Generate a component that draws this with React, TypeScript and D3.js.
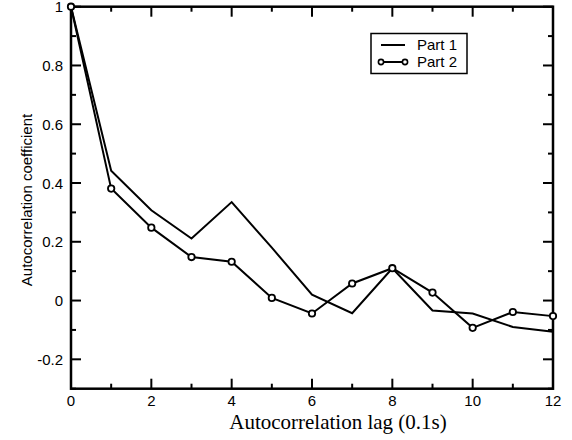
import React from "react";
import * as d3 from "d3";

const lags = [0, 1, 2, 3, 4, 5, 6, 7, 8, 9, 10, 11, 12];
const part1 = [1, 0.442, 0.307, 0.211, 0.335, 0.18, 0.02, -0.043, 0.11, -0.034, -0.044, -0.09, -0.106];
const part2 = [1, 0.381, 0.248, 0.148, 0.132, 0.009, -0.044, 0.058, 0.11, 0.027, -0.093, -0.039, -0.053];
const xTicks = [0, 2, 4, 6, 8, 10, 12];
const yTicks = [-0.2, 0, 0.2, 0.4, 0.6, 0.8, 1];
const seriesNames = ["Part 1", "Part 2"];

const W = 572, H = 440;
const L = 71, R = 553, T = 6.7, B = 388.7;

export default function App() {
  const x = d3.scaleLinear().domain([0, 12]).range([L, R]);
  const y = d3.scaleLinear().domain([-0.3, 1]).range([B, T]);
  const line = d3.line<number>().x((_, i) => x(lags[i])).y((d) => y(d));
  const xMinor = d3.range(0, 13, 1);
  const yMinor = d3.range(-3, 11, 1).map((v) => v / 10);
  const fmt = (v: number) => (v === 0 ? "0" : v === 1 ? "1" : d3.format(".1f")(v).replace("−", "-"));
  return (
    <svg width={W} height={H} style={{ position: "absolute", left: 0, top: 0, background: "#fff" }}>
      <rect x={0} y={0} width={W} height={H} fill="#fff" />
      {xMinor.map((v) => (
        <g key={"xm" + v}>
          <line x1={x(v)} x2={x(v)} y1={B} y2={B - (v % 2 === 0 ? 10 : 5)} stroke="#000" strokeWidth={2} />
          <line x1={x(v)} x2={x(v)} y1={T} y2={T + (v % 2 === 0 ? 10 : 5)} stroke="#000" strokeWidth={2} />
        </g>
      ))}
      {yMinor.map((v, i) => {
        const major = Math.round(v * 10) % 2 === 0;
        return (
          <g key={"ym" + i}>
            <line x1={L} x2={L + (major ? 10 : 5)} y1={y(v)} y2={y(v)} stroke="#000" strokeWidth={2} />
            <line x1={R} x2={R - (major ? 10 : 5)} y1={y(v)} y2={y(v)} stroke="#000" strokeWidth={2} />
          </g>
        );
      })}
      <rect x={L} y={T} width={R - L} height={B - T} fill="none" stroke="#000" strokeWidth={2.5} />
      {xTicks.map((v) => (
        <text key={"xt" + v} x={x(v)} y={405.5} textAnchor="middle" fontFamily="Liberation Sans, Arial, sans-serif" fontSize={15} fill="#000">
          {v}
        </text>
      ))}
      {yTicks.map((v) => (
        <text key={"yt" + v} x={L - 8} y={y(v) + 5.5} textAnchor="end" fontFamily="Liberation Sans, Arial, sans-serif" fontSize={15} fill="#000">
          {fmt(v)}
        </text>
      ))}
      <text x={338} y={429} textAnchor="middle" fontFamily="Liberation Serif, Times New Roman, serif" fontSize={21} fill="#000">
        Autocorrelation lag (0.1s)
      </text>
      <text transform={`translate(32,200) rotate(-90)`} textAnchor="middle" fontFamily="Liberation Sans, Arial, sans-serif" fontSize={15} fill="#000">
        Autocorrelation coefficient
      </text>
      <path d={line(part1) || ""} fill="none" stroke="#000" strokeWidth={2} />
      <path d={line(part2) || ""} fill="none" stroke="#000" strokeWidth={2} />
      {part2.map((v, i) => (
        <circle key={"c" + i} cx={x(lags[i])} cy={y(v)} r={3.2} fill="#fff" stroke="#000" strokeWidth={1.8} />
      ))}
      <rect x={371} y={33.5} width={96} height={40} fill="#fff" stroke="#000" strokeWidth={1.5} />
      <line x1={381} x2={405} y1={45} y2={45} stroke="#000" strokeWidth={2} />
      <line x1={381} x2={405} y1={62} y2={62} stroke="#000" strokeWidth={2} />
      <circle cx={381} cy={62} r={2.6} fill="#fff" stroke="#000" strokeWidth={1.6} />
      <circle cx={405} cy={62} r={2.6} fill="#fff" stroke="#000" strokeWidth={1.6} />
      <text x={417} y={50} fontFamily="Liberation Sans, Arial, sans-serif" fontSize={15} fill="#000">{seriesNames[0]}</text>
      <text x={417} y={67} fontFamily="Liberation Sans, Arial, sans-serif" fontSize={15} fill="#000">{seriesNames[1]}</text>
    </svg>
  );
}
